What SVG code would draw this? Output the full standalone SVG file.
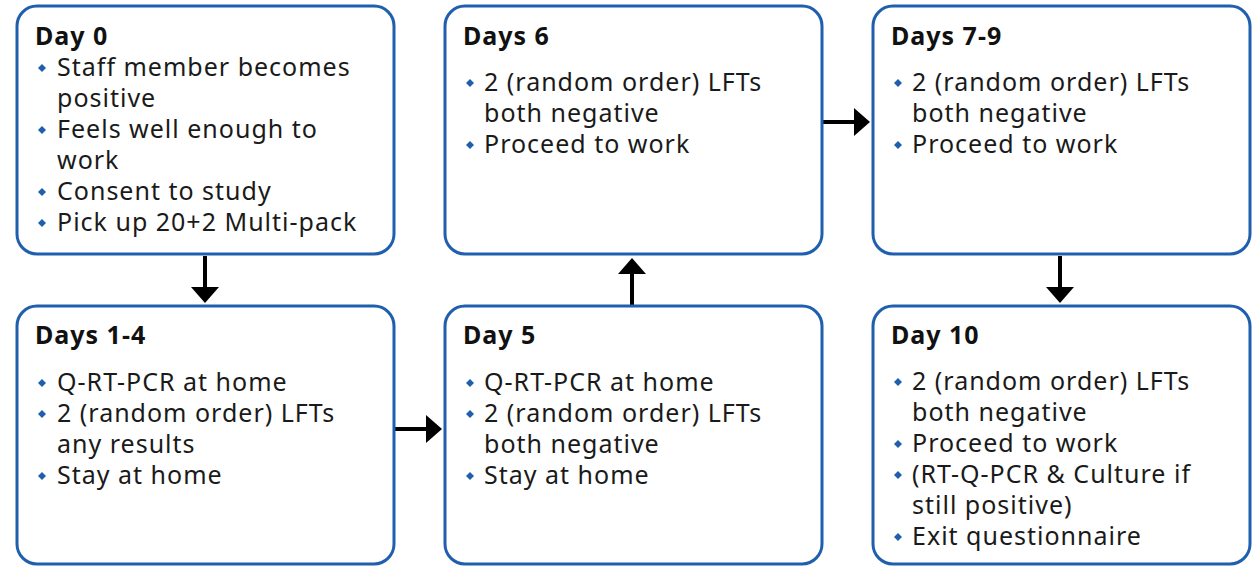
<svg xmlns="http://www.w3.org/2000/svg" width="1258" height="567" viewBox="0 0 1258 567">
  <defs>
    <style>
      .box { fill: #ffffff; stroke: #1f5fae; stroke-width: 3; }
      .title { font-family: "Noto Sans", "DejaVu Sans", sans-serif; font-size: 25px; font-weight: bold; letter-spacing: 1px; fill: #111111; }
      .item { font-family: "Noto Sans", "DejaVu Sans", sans-serif; font-size: 25px; letter-spacing: 1px; fill: #1a1a1a; }
      .bullet { fill: #1f5fae; }
      .link { stroke: #000000; stroke-width: 4; fill: none; }
      .head { fill: #000000; }
    </style>
    <path id="dia" d="M0,-4 L4,0 L0,4 L-4,0 Z"/>
  </defs>

  <rect width="1258" height="567" fill="#ffffff"/>

  <!-- connectors -->
  <g id="connectors">
    <line class="link" x1="205" y1="256" x2="205" y2="288"/>
    <polygon class="head" points="191,287 219,287 205,303"/>
    <line class="link" x1="395" y1="429" x2="427" y2="429"/>
    <polygon class="head" points="426,415 426,443 442,429"/>
    <line class="link" x1="632" y1="305" x2="632" y2="273"/>
    <polygon class="head" points="618,274 646,274 632,258"/>
    <line class="link" x1="822" y1="122" x2="855" y2="122"/>
    <polygon class="head" points="854,108 854,136 870,122"/>
    <line class="link" x1="1060" y1="256" x2="1060" y2="288"/>
    <polygon class="head" points="1046,287 1074,287 1060,303"/>
  </g>

  <!-- Day 0 -->
  <g id="day0">
    <rect class="box" x="17" y="6" width="377" height="248" rx="20"/>
    <text class="title" x="35" y="45">Day 0</text>
    <use href="#dia" class="bullet" x="42" y="68"/>
    <text class="item" x="57" y="76">Staff member becomes</text>
    <text class="item" x="57" y="107">positive</text>
    <use href="#dia" class="bullet" x="42" y="130"/>
    <text class="item" x="57" y="138">Feels well enough to</text>
    <text class="item" x="57" y="169">work</text>
    <use href="#dia" class="bullet" x="42" y="192"/>
    <text class="item" x="57" y="200">Consent to study</text>
    <use href="#dia" class="bullet" x="42" y="223"/>
    <text class="item" x="57" y="231">Pick up 20+2 Multi-pack</text>
  </g>

  <!-- Days 6 -->
  <g id="days6">
    <rect class="box" x="445" y="6" width="377" height="248" rx="20"/>
    <text class="title" x="463" y="45">Days 6</text>
    <use href="#dia" class="bullet" x="470" y="83"/>
    <text class="item" x="484" y="91">2 (random order) LFTs</text>
    <text class="item" x="484" y="122">both negative</text>
    <use href="#dia" class="bullet" x="470" y="145"/>
    <text class="item" x="484" y="153">Proceed to work</text>
  </g>

  <!-- Days 7-9 -->
  <g id="days7-9">
    <rect class="box" x="873" y="6" width="377" height="248" rx="20"/>
    <text class="title" x="891" y="45">Days 7-9</text>
    <use href="#dia" class="bullet" x="898" y="83"/>
    <text class="item" x="912" y="91">2 (random order) LFTs</text>
    <text class="item" x="912" y="122">both negative</text>
    <use href="#dia" class="bullet" x="898" y="145"/>
    <text class="item" x="912" y="153">Proceed to work</text>
  </g>

  <!-- Days 1-4 -->
  <g id="days1-4">
    <rect class="box" x="17" y="306" width="377" height="258" rx="20"/>
    <text class="title" x="35" y="344">Days 1-4</text>
    <use href="#dia" class="bullet" x="42" y="383"/>
    <text class="item" x="57" y="391">Q-RT-PCR at home</text>
    <use href="#dia" class="bullet" x="42" y="414"/>
    <text class="item" x="57" y="422">2 (random order) LFTs</text>
    <text class="item" x="57" y="453">any results</text>
    <use href="#dia" class="bullet" x="42" y="476"/>
    <text class="item" x="57" y="484">Stay at home</text>
  </g>

  <!-- Day 5 -->
  <g id="day5">
    <rect class="box" x="445" y="306" width="377" height="258" rx="20"/>
    <text class="title" x="463" y="344">Day 5</text>
    <use href="#dia" class="bullet" x="470" y="383"/>
    <text class="item" x="484" y="391">Q-RT-PCR at home</text>
    <use href="#dia" class="bullet" x="470" y="414"/>
    <text class="item" x="484" y="422">2 (random order) LFTs</text>
    <text class="item" x="484" y="453">both negative</text>
    <use href="#dia" class="bullet" x="470" y="476"/>
    <text class="item" x="484" y="484">Stay at home</text>
  </g>

  <!-- Day 10 -->
  <g id="day10">
    <rect class="box" x="873" y="306" width="377" height="258" rx="20"/>
    <text class="title" x="891" y="344">Day 10</text>
    <use href="#dia" class="bullet" x="898" y="382"/>
    <text class="item" x="912" y="390">2 (random order) LFTs</text>
    <text class="item" x="912" y="421">both negative</text>
    <use href="#dia" class="bullet" x="898" y="444"/>
    <text class="item" x="912" y="452">Proceed to work</text>
    <use href="#dia" class="bullet" x="898" y="475"/>
    <text class="item" x="912" y="483">(RT-Q-PCR &amp; Culture if</text>
    <text class="item" x="912" y="514">still positive)</text>
    <use href="#dia" class="bullet" x="898" y="537"/>
    <text class="item" x="912" y="545">Exit questionnaire</text>
  </g>
</svg>
